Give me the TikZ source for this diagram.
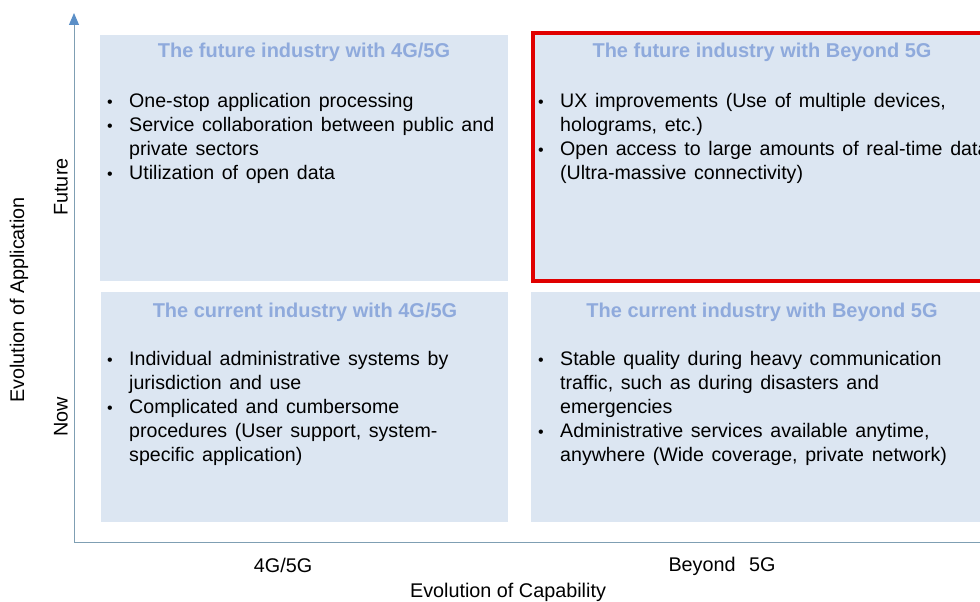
\documentclass[tikz,border=0pt]{standalone}
\usepackage{fontspec}
\setmainfont{Liberation Sans}
\usetikzlibrary{arrows.meta}
\definecolor{boxfill}{HTML}{DCE6F2}
\definecolor{titleblue}{HTML}{8FAADC}
\definecolor{axisgray}{HTML}{7F9FB3}
\definecolor{arrowblue}{HTML}{5B8FC7}
\definecolor{hired}{HTML}{E00000}
\newcommand{\bodyfnt}{\fontsize{19.6}{24}\selectfont\spaceskip=0.39em plus 0.1em\relax}
\tikzset{
  quad/.style={fill=boxfill, draw=none},
  ttl/.style={font=\fontsize{20}{24}\selectfont\bfseries, text=titleblue, inner sep=0pt, anchor=base},
  body/.style={font=\bodyfnt, inner sep=0pt, anchor=base west},
  axlbl/.style={font=\fontsize{19.8}{24}\selectfont, inner sep=0pt},
}
\newcommand{\blt}{\makebox[22pt][l]{\raisebox{0pt}{\fontsize{16}{16}\selectfont•}}}
\newcommand{\ind}{\hspace*{22pt}}
\begin{document}
\begin{tikzpicture}[x=1pt,y=-1pt]
\useasboundingbox (0,0) rectangle (980,602);
% boxes
\fill[quad] (100,35) rectangle (508,281);
\fill[quad] (533,35) rectangle (995,281);
\draw[hired, line width=4.5pt] (533,33) rectangle (995,281);
\fill[quad] (101,292) rectangle (508,522);
\fill[quad] (531,292) rectangle (995,522);
% axes
\coordinate (orig) at (74,542);
\coordinate (ytip) at (74,13);
\coordinate (xend) at (985,542);
\draw[axisgray, line width=1pt] (orig) -- (xend);
\draw[axisgray, line width=1pt, -{Triangle[length=12pt,width=10pt,color=arrowblue]}] (orig) -- (ytip);
% titles
\node[ttl] (t1) at (304,58) {The future industry with 4G/5G};
\node[ttl] (t2) at (762,58) {The future industry with Beyond 5G};
\node[ttl] (t3) at (305,317) {The current industry with 4G/5G};
\node[ttl] (t4) at (762,317) {The current industry with Beyond 5G};
% bodies
\node[body] (b1) at (107,107.5) {\begin{tabular}[t]{@{}l@{}}
\blt One-stop application processing\\
\blt Service collaboration between public and\\
\ind private sectors\\
\blt Utilization of open data\end{tabular}};
\node[body] (b2) at (538,107.5) {\begin{tabular}[t]{@{}l@{}}
\blt UX improvements (Use of multiple devices,\\
\ind holograms, etc.)\\
\blt Open access to large amounts of real-time data\\
\ind (Ultra-massive connectivity)\end{tabular}};
\node[body] (b3) at (107,365.5) {\begin{tabular}[t]{@{}l@{}}
\blt Individual administrative systems by\\
\ind jurisdiction and use\\
\blt Complicated and cumbersome\\
\ind procedures (User support, system-\\
\ind specific application)\end{tabular}};
\node[body] (b4) at (538,365.5) {\begin{tabular}[t]{@{}l@{}}
\blt Stable quality during heavy communication\\
\ind traffic, such as during disasters and\\
\ind emergencies\\
\blt Administrative services available anytime,\\
\ind anywhere (Wide coverage, private network)\end{tabular}};
% axis labels
\node[axlbl] (x1) at (283,565) {4G/5G};
\node[axlbl] (x2) at (722,566) {Beyond\hspace{0.4em} 5G};
\node[axlbl] (x3) at (508,592) {Evolution of Capability};
\node[axlbl, rotate=90] (y1) at (61,187) {Future};
\node[axlbl, rotate=90] (y2) at (61,417) {Now};
\node[axlbl, rotate=90] (y3) at (19,300) {Evolution of Application};
\end{tikzpicture}
\end{document}
